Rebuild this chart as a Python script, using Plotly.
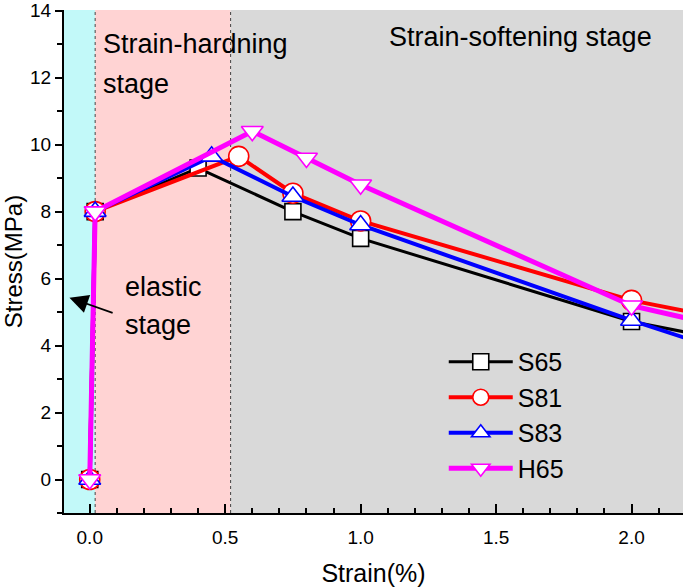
import plotly.graph_objects as go

# ---- data ----
names = ["S65", "S81", "S83", "H65"]
x_s65 = [0.0, 0.02, 0.40, 0.75, 1.0, 2.0, 2.5]
y_s65 = [0.0, 8.0, 9.3, 8.0, 7.2, 4.72, 3.92]
x_s81 = [0.0, 0.02, 0.55, 0.75, 1.0, 2.0, 2.5]
y_s81 = [0.0, 8.0, 9.65, 8.55, 7.72, 5.35, 4.55]
x_s83 = [0.0, 0.02, 0.45, 0.75, 1.0, 2.0, 2.5]
y_s83 = [0.0, 8.0, 9.65, 8.45, 7.6, 4.75, 3.43]
x_h65 = [0.0, 0.02, 0.60, 0.80, 1.0, 2.0, 2.5]
y_h65 = [0.0, 8.0, 10.4, 9.6, 8.8, 5.19, 4.27]

stage_bounds = [-0.095, 0.02, 0.52, 2.19]
stage_colors = ["#c2f9f9", "#ffd3d3", "#d9d9d9"]

x_range = [-0.095, 2.19]
y_range = [-1, 14.02]

FONT = "Liberation Sans, Arial, sans-serif"

series = [
    (names[0], x_s65, y_s65, "black", 3, "square", 16),
    (names[1], x_s81, y_s81, "#ff0000", 4, "circle", 20),
    (names[2], x_s83, y_s83, "#0000ff", 4, "triangle-up", 19),
    (names[3], x_h65, y_h65, "#ff00ff", 5, "triangle-down", 19),
]

fig = go.Figure()
for nm, xs, ys, col, lw, sym, ms in series:
    fig.add_trace(go.Scatter(
        x=xs, y=ys, name=nm, mode="lines+markers",
        line=dict(color=col, width=lw),
        marker=dict(symbol=sym, size=ms, color="white",
                    line=dict(color=col, width=1.6)),
        cliponaxis=True,
    ))

shapes = []
for i, c in enumerate(stage_colors):
    shapes.append(dict(type="rect", xref="x", yref="paper",
                       x0=stage_bounds[i], x1=stage_bounds[i + 1], y0=0, y1=1,
                       fillcolor=c, line=dict(width=0), layer="below"))
for xb in stage_bounds[1:3]:
    shapes.append(dict(type="line", xref="x", yref="paper", x0=xb, x1=xb,
                       y0=0, y1=1, line=dict(color="#444444", width=1, dash="dot"),
                       layer="below"))

ann_font = dict(family=FONT, size=27, color="black")
annotations = [
    dict(x=0.042, y=13.0, text="Strain-hardning", showarrow=False,
         xanchor="left", yanchor="middle", font=ann_font),
    dict(x=0.042, y=11.8, text="stage", showarrow=False,
         xanchor="left", yanchor="middle", font=ann_font),
    dict(x=1.099, y=13.2, text="Strain-softening stage", showarrow=False,
         xanchor="left", yanchor="middle", font=ann_font),
    dict(x=0.124, y=5.76, text="elastic", showarrow=False,
         xanchor="left", yanchor="middle", font=ann_font),
    dict(x=0.124, y=4.6, text="stage", showarrow=False,
         xanchor="left", yanchor="middle", font=ann_font),
    dict(x=-0.075, y=5.43, ax=0.09, ay=4.96, axref="x", ayref="y",
         xref="x", yref="y", text="", showarrow=True,
         arrowhead=2, arrowsize=2.2, arrowwidth=1.7, arrowcolor="black"),
]

fig.update_layout(
    width=685, height=587,
    margin=dict(l=64, r=2, t=10, b=74),
    paper_bgcolor="white", plot_bgcolor="rgba(0,0,0,0)",
    font=dict(family=FONT, size=19, color="black"),
    shapes=shapes, annotations=annotations,
    showlegend=True,
    legend=dict(x=0.6135, y=0.346, xanchor="left", yanchor="top",
                bgcolor="rgba(0,0,0,0)", font=dict(family=FONT, size=25),
                itemwidth=64, tracegroupgap=0),
)
fig.update_xaxes(
    range=x_range, dtick=0.5, tick0=0, tickformat=".1f",
    showline=True, linecolor="black", linewidth=2, mirror=False,
    ticks="inside", ticklen=9, tickwidth=2, tickcolor="black",
    minor=dict(dtick=0.1, ticks="inside", ticklen=5, tickwidth=1.5, tickcolor="black"),
    showgrid=False, zeroline=False, automargin=False,
    ticklabelstandoff=6,
    title=dict(text="Strain(%)", font=dict(family=FONT, size=25), standoff=18),
    tickfont=dict(family=FONT, size=19),
)
fig.update_yaxes(
    range=y_range, dtick=2, tick0=0,
    showline=True, linecolor="black", linewidth=2, mirror=False,
    ticks="outside", ticklen=7, tickwidth=2, tickcolor="black",
    minor=dict(dtick=1, ticks="outside", ticklen=5, tickwidth=1.5, tickcolor="black"),
    showgrid=False, zeroline=False, automargin=False,
    title=dict(text="Stress(MPa)", font=dict(family=FONT, size=24), standoff=4),
    tickfont=dict(family=FONT, size=19),
)

fig.write_html("out.html", config={"displayModeBar": False},
               post_script="document.body.style.margin='0';document.body.style.overflow='hidden';")
